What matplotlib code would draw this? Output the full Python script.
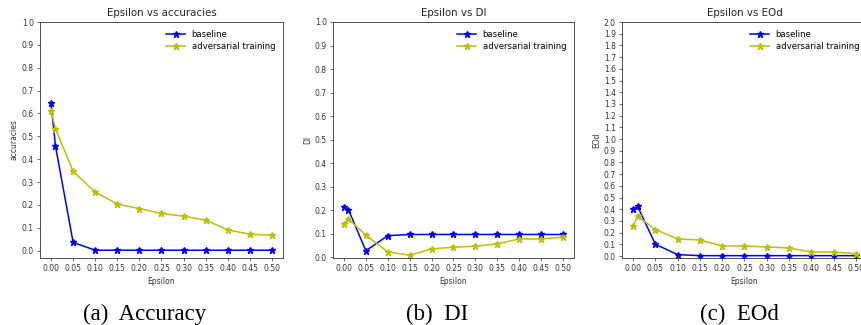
import matplotlib.pyplot as plt
import numpy as np

epsilons = [0.0, 0.01, 0.05, 0.10, 0.15, 0.20, 0.25, 0.30, 0.35, 0.40, 0.45, 0.50]

acc_baseline = [0.644, 0.458, 0.036, 0.002, 0.002, 0.002, 0.002, 0.002, 0.002, 0.002, 0.002, 0.002]
acc_adv = [0.612, 0.533, 0.347, 0.256, 0.204, 0.184, 0.163, 0.151, 0.134, 0.091, 0.072, 0.068]

di_baseline = [0.214, 0.203, 0.028, 0.092, 0.097, 0.097, 0.097, 0.097, 0.097, 0.097, 0.097, 0.097]
di_adv = [0.141, 0.163, 0.094, 0.023, 0.009, 0.036, 0.043, 0.047, 0.057, 0.078, 0.078, 0.085]

eod_baseline = [0.403, 0.424, 0.100, 0.012, 0.003, 0.003, 0.003, 0.003, 0.003, 0.003, 0.003, 0.003]
eod_adv = [0.257, 0.340, 0.226, 0.146, 0.137, 0.086, 0.086, 0.077, 0.069, 0.034, 0.034, 0.020]

xticks = np.arange(0, 0.51, 0.05)

plt.rcParams['font.family'] = 'DejaVu Sans'
plt.rcParams['font.size'] = 5.5

fig = plt.figure(figsize=(8.62, 3.25), dpi=100)

W, H = 862, 325
panels = [
    # left, right px, data, ylabel, title, ylim, yticks, caption, caption x
    (40, 283, acc_baseline, acc_adv, 'accuracies', 'Epsilon vs accuracies', (-0.032, 1.0), np.arange(0, 1.01, 0.1), '(a)  Accuracy', 145),
    (333, 574, di_baseline, di_adv, 'DI', 'Epsilon vs DI', (-0.003, 1.0), np.arange(0, 1.01, 0.1), '(b)  DI', 437),
    (622, 867, eod_baseline, eod_adv, 'EOd', 'Epsilon vs EOd', (-0.017, 2.0), np.arange(0, 2.01, 0.1), '(c)  EOd', 739),
]

for left, right, base, adv, ylab, title, ylim, yt, cap, capx in panels:
    top, bottom = 22, 258
    ax = fig.add_axes([left / W, 1 - bottom / H, (right - left) / W, (bottom - top) / H])
    ax.plot(epsilons, base, color='b', marker='*', markersize=4.5, linewidth=1.1, label='baseline')
    ax.plot(epsilons, adv, color='y', marker='*', markersize=4.5, linewidth=1.1, label='adversarial training')
    ax.set_xlim(-0.025, 0.525)
    ax.set_ylim(*ylim)
    ax.set_xticks(xticks)
    ax.set_yticks(yt)
    ax.set_xticklabels(['%.2f' % v for v in xticks])
    ax.set_yticklabels(['%.1f' % v for v in yt])
    ax.tick_params(length=2.5, width=0.5, pad=2, colors='#333333', labelcolor='#333333')
    for s in ax.spines.values():
        s.set_linewidth(0.6)
        s.set_color('#333333')
    ax.set_xlabel('Epsilon', labelpad=2.5, color='#333333')
    ax.set_ylabel(ylab, labelpad=2, color='#333333')
    ax.set_title(title, fontsize=7.4, pad=4, color='#222222')
    ax.legend(loc='upper right', frameon=False, fontsize=6.1, handlelength=2.2,
              borderaxespad=0.5, labelspacing=0.4)
    fig.text(capx / W, 1 - 314 / H, cap, ha='center', va='center',
             family='Liberation Serif', fontsize=16.5)

fig.savefig('out.png', dpi=100)
